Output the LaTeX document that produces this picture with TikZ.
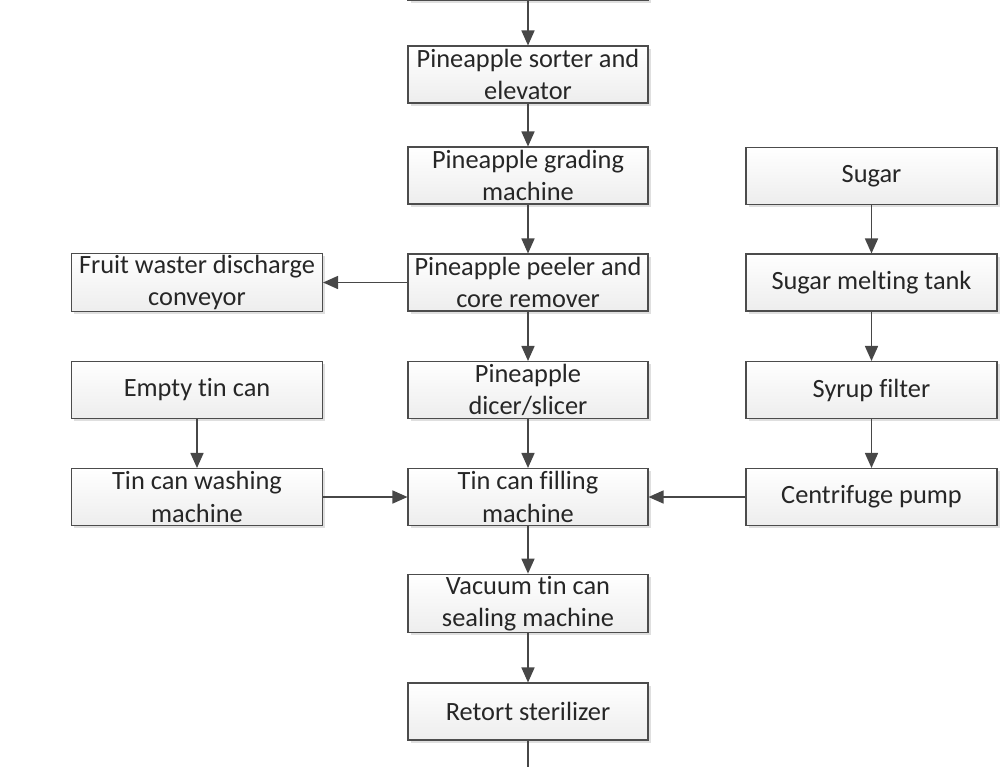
\documentclass[tikz,border=0pt]{standalone}
\usepackage{fontspec}
\setmainfont[Ligatures={NoCommon,NoContextual,NoRequired},RawFeature={-calt;-ccmp}]{Carlito}
\usetikzlibrary{arrows.meta,shadows}

\begin{document}
\begin{tikzpicture}[
    box/.style={draw=gray!60!black, line width=0.6pt, top color=white, bottom color=gray!14,
      drop shadow={opacity=0.25, shadow xshift=0.5mm, shadow yshift=-0.5mm},
      minimum width=4.8cm, minimum height=1.14cm, align=center, inner sep=1pt,
      font=\fontsize{15}{18.5}\selectfont, text=black!85},
    sidebox/.style={box, minimum width=5.02cm},
    flow/.style={draw=black!72, line width=0.9pt, -{Triangle[length=3mm,width=2.6mm]}}]
  \clip (0,0) rectangle (20,-15.32);
  % main line
  \node[box] (feed) at (10.56,0.57) {};
  \node[box] (sorter) at (10.56,-1.49) {Pineapple sorter and\\elevator};
  \node[box] (grading) at (10.56,-3.51) {Pineapple grading\\machine};
  \node[box] (peeler) at (10.56,-5.65) {Pineapple peeler and\\core remover};
  \node[box] (dicer) at (10.56,-7.8) {Pineapple\\dicer/slicer};
  \node[box] (filling) at (10.56,-9.94) {Tin can filling\\machine};
  \node[box] (sealing) at (10.56,-12.07) {Vacuum tin can\\sealing machine};
  \node[box] (retort) at (10.56,-14.23) {Retort sterilizer};
  \coordinate (out) at (10.56,-15.6);
  % left side
  \node[sidebox] (waste) at (3.94,-5.65) {Fruit waster discharge\\conveyor};
  \node[sidebox] (emptycan) at (3.94,-7.8) {Empty tin can};
  \node[sidebox] (washing) at (3.94,-9.94) {Tin can washing\\machine};
  % syrup side
  \node[sidebox] (sugar) at (17.43,-3.52) {Sugar};
  \node[sidebox] (melting) at (17.43,-5.65) {Sugar melting tank};
  \node[sidebox] (filter) at (17.43,-7.8) {Syrup filter};
  \node[sidebox] (pump) at (17.43,-9.94) {Centrifuge pump};

  \draw[flow] (feed) -- (sorter);
  \draw[flow] (sorter) -- (grading);
  \draw[flow] (grading) -- (peeler);
  \draw[flow] (peeler) -- (dicer);
  \draw[flow] (dicer) -- (filling);
  \draw[flow] (filling) -- (sealing);
  \draw[flow] (sealing) -- (retort);
  \draw[draw=black!72, line width=0.9pt] (retort) -- (out);
  \draw[flow] (peeler) -- (waste);
  \draw[flow] (emptycan) -- (washing);
  \draw[flow] (washing) -- (filling);
  \draw[flow] (sugar) -- (melting);
  \draw[flow] (melting) -- (filter);
  \draw[flow] (filter) -- (pump);
  \draw[flow] (pump) -- (filling);
\end{tikzpicture}
\end{document}
